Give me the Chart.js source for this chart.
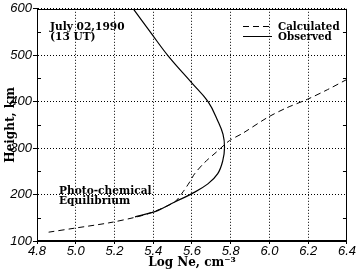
<!DOCTYPE html>
<html><head><meta charset="utf-8">
<script src="https://cdn.jsdelivr.net/npm/chart.js@4.4.0/dist/chart.umd.min.js"></script>
<style>html,body{margin:0;padding:0;background:#fff}#wrap{width:356px;height:271px}</style>
</head><body><div id="wrap"><canvas id="c"></canvas></div>
<script>
const xTicks = [4.8, 5.0, 5.2, 5.4, 5.6, 5.8, 6.0, 6.2, 6.4];
const yTicks = [100, 200, 300, 400, 500, 600];
const calcLogNe  = [4.86, 5.0, 5.17, 5.306, 5.39, 5.51, 5.554, 5.588, 5.614, 5.665, 5.733, 5.793, 5.862, 5.99, 6.09, 6.195, 6.30, 6.40];
const calcHeight = [119, 128, 139, 151, 161, 184, 206, 227, 245, 269, 294, 316, 332, 366, 387, 405, 426, 448];
const obsLogNe   = [5.306, 5.39, 5.426, 5.511, 5.6, 5.682, 5.733, 5.759, 5.768, 5.76, 5.734, 5.683, 5.6, 5.48, 5.39, 5.297];
const obsHeight  = [152, 161, 166, 184, 202, 223, 245, 273, 302, 330, 358, 400, 440, 497, 547, 600];
const seriesLabels = ['Calculated', 'Observed'];

const serif = '"DejaVu Serif", serif';
const sans = '"Liberation Sans", Arial, sans-serif';

const pts = (xs, ys) => xs.map((x, i) => ({x: x, y: ys[i]}));

const framePlugin = {
  id: 'frame',
  afterDraw(chart) {
    const ctx = chart.ctx, a = chart.chartArea, ys = chart.scales.y;
    ctx.save();
    ctx.strokeStyle = '#000'; ctx.lineWidth = 1; ctx.setLineDash([]);
    ctx.strokeRect(Math.round(a.left) + 0.5, Math.round(a.top) + 0.5, Math.round(a.right - a.left) - 1, Math.round(a.bottom - a.top) - 1);
    for (let v = 150; v < 600; v += 100) {
      const p = Math.round(ys.getPixelForValue(v)) + 0.5;
      ctx.beginPath();
      ctx.moveTo(a.left, p); ctx.lineTo(a.left + 4, p);
      ctx.moveTo(a.right, p); ctx.lineTo(a.right - 4, p);
      ctx.stroke();
    }
    ctx.fillStyle = '#000';
    ctx.font = 'bold 10.6px ' + serif;
    ctx.textBaseline = 'alphabetic'; ctx.textAlign = 'left';
    ctx.fillText('July 02,1990', 50, 30);
    ctx.fillText('(13 UT)', 50, 40);
    ctx.fillText('Photo-chemical', 59, 194);
    ctx.fillText('Equilibrium', 59, 204);
    ctx.font = 'bold 10.3px ' + serif;
    chart.data.datasets.forEach((ds, i) => {
      const y = 26 + i * 10 + 0.5;
      ctx.setLineDash(ds.borderDash || []);
      ctx.beginPath(); ctx.moveTo(243, y); ctx.lineTo(272, y); ctx.stroke();
      ctx.setLineDash([]);
      ctx.fillText(ds.label, 278, y + 3.5);
    });
    ctx.restore();
  }
};

new Chart(document.getElementById('c'), {
  type: 'scatter',
  data: {
    datasets: [
      {label: seriesLabels[0], data: pts(calcLogNe, calcHeight), showLine: true, borderColor: '#000', borderWidth: 1, borderDash: [6, 4], pointRadius: 0, tension: 0.3},
      {label: seriesLabels[1], data: pts(obsLogNe, obsHeight), showLine: true, borderColor: '#000', borderWidth: 1.2, pointRadius: 0, tension: 0.4}
    ]
  },
  options: {
    responsive: true, maintainAspectRatio: false, animation: false,
    layout: {padding: {top: 7, right: 6, left: 0, bottom: 0}},
    plugins: {legend: {display: false}, tooltip: {enabled: false}},
    scales: {
      x: {
        type: 'linear', min: 4.8, max: 6.4,
        afterBuildTicks(s) { s.ticks = xTicks.map(v => ({value: v})); },
        afterFit(s) { s.height = 30; },
        ticks: {color: '#000', font: {family: sans, size: 13, style: 'italic'}, padding: 0, callback: v => v.toFixed(1)},
        grid: {color: '#000', tickLength: 3, tickBorderDash: [], drawTicks: true},
        border: {display: true, color: '#000', dash: [1, 2]},
        title: {display: true, text: 'Log Ne, cm\u207B\u00B3', color: '#000', font: {family: serif, size: 12, weight: 'bold'}, padding: {top: 0, bottom: 1}}
      },
      y: {
        type: 'linear', min: 100, max: 600,
        afterBuildTicks(s) { s.ticks = yTicks.map(v => ({value: v})); },
        afterFit(s) { s.width = 37; },
        ticks: {color: '#000', font: {family: sans, size: 13, style: 'italic'}, padding: 1},
        grid: {color: '#000', tickLength: 4, tickBorderDash: [], drawTicks: true},
        border: {display: true, color: '#000', dash: [1, 2]},
        title: {display: true, text: 'Height, km', color: '#000', font: {family: serif, size: 12, weight: 'bold'}, padding: {top: 4, bottom: 0}}
      }
    }
  },
  plugins: [framePlugin]
});
</script></body></html>
